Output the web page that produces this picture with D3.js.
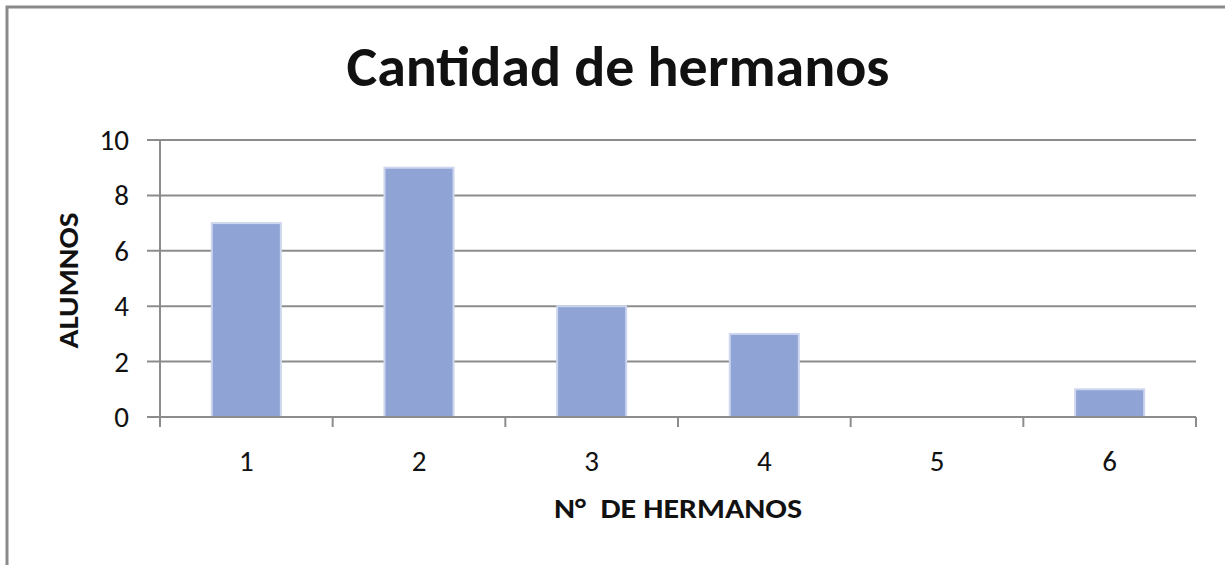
<!DOCTYPE html>
<html>
<head>
<meta charset="utf-8">
<script src="https://cdn.jsdelivr.net/npm/d3@7"></script>
<style>
  body { margin: 0; background: #fff; }
  text { font-family: Carlito, Calibri, "Open Sans", sans-serif; fill: #111; }
</style>
</head>
<body>
<div class="container"></div>
<script>
var categorias = ['1', '2', '3', '4', '5', '6'];
var alumnos = [7, 9, 4, 3, 0, 1];
var ticksY = [0, 2, 4, 6, 8, 10];

var W = 1225, H = 565;
var plotL = 160, plotR = 1196, plotT = 140, plotB = 417;

var svg = d3.select('.container')
    .append('svg')
    .attr('width', W)
    .attr('height', H);

svg.append('rect')
    .attr('width', W).attr('height', H)
    .style('fill', '#fff');

// marco del grafico (solo se ve arriba e izquierda)
svg.append('path')
    .attr('d', 'M7,' + H + 'V7H' + W)
    .style('fill', 'none')
    .style('stroke', '#8a8a8a')
    .style('stroke-width', 3);

var x = d3.scaleBand()
    .domain(categorias)
    .range([plotL, plotR])
    .paddingInner(0.6)
    .paddingOuter(0.3);

var y = d3.scaleLinear()
    .domain([0, 10])
    .range([plotB, plotT]);

// lineas de cuadricula
svg.selectAll('.grid')
    .data(ticksY)
    .enter()
    .append('line')
    .attr('class', 'grid')
    .attr('x1', plotL - 13)
    .attr('x2', plotR)
    .attr('y1', d => y(d))
    .attr('y2', d => y(d))
    .style('stroke', '#8c8c8c')
    .style('stroke-width', 2);

svg.selectAll('.ylab')
    .data(ticksY)
    .enter()
    .append('text')
    .attr('class', 'ylab')
    .attr('x', 129)
    .attr('y', d => y(d) + 10)
    .attr('text-anchor', 'end')
    .style('font-size', '29px')
    .text(d => d);

// barras
svg.selectAll('.bar')
    .data(alumnos)
    .enter()
    .append('rect')
    .attr('class', 'bar')
    .attr('x', (d, i) => x(categorias[i]))
    .attr('y', d => y(d))
    .attr('width', x.bandwidth())
    .attr('height', d => plotB - y(d))
    .style('fill', '#8fa4d4')
    .style('stroke', '#cdd6ee')
    .style('stroke-width', 2)
    .style('display', d => d > 0 ? null : 'none');

// ejes
svg.append('line')
    .attr('x1', plotL).attr('x2', plotL)
    .attr('y1', plotT).attr('y2', plotB + 10)
    .style('stroke', '#8c8c8c')
    .style('stroke-width', 2);

svg.append('line')
    .attr('x1', plotL).attr('x2', plotR)
    .attr('y1', plotB).attr('y2', plotB)
    .style('stroke', '#8c8c8c')
    .style('stroke-width', 2);

var cortes = categorias.slice(1).map(c => x(c) - x.step() * x.paddingInner() / 2);
cortes.push(plotR);

svg.selectAll('.xtick')
    .data(cortes)
    .enter()
    .append('line')
    .attr('class', 'xtick')
    .attr('x1', d => d).attr('x2', d => d)
    .attr('y1', plotB).attr('y2', plotB + 10)
    .style('stroke', '#8c8c8c')
    .style('stroke-width', 2);

svg.selectAll('.xlab')
    .data(categorias)
    .enter()
    .append('text')
    .attr('class', 'xlab')
    .attr('x', d => x(d) + x.bandwidth() / 2)
    .attr('y', 471)
    .attr('text-anchor', 'middle')
    .style('font-size', '29px')
    .text(d => d);

// titulos
svg.append('text')
    .attr('x', 618)
    .attr('y', 86)
    .attr('text-anchor', 'middle')
    .attr('textLength', 543)
    .attr('lengthAdjust', 'spacingAndGlyphs')
    .style('font-size', '56px')
    .style('font-weight', 'bold')
    .text('Cantidad de hermanos');

svg.append('text')
    .attr('x', (plotL + plotR) / 2)
    .attr('y', 518)
    .attr('text-anchor', 'middle')
    .attr('textLength', 248)
    .attr('lengthAdjust', 'spacingAndGlyphs')
    .style('font-size', '29px')
    .style('font-weight', 'bold')
    .style('white-space', 'pre')
    .text('N°  DE HERMANOS');

svg.append('text')
    .attr('transform', 'translate(78,' + ((plotT + plotB) / 2 + 2) + ') rotate(-90)')
    .attr('text-anchor', 'middle')
    .attr('textLength', 136)
    .attr('lengthAdjust', 'spacingAndGlyphs')
    .style('font-size', '29px')
    .style('font-weight', 'bold')
    .text('ALUMNOS');
</script>
</body>
</html>
